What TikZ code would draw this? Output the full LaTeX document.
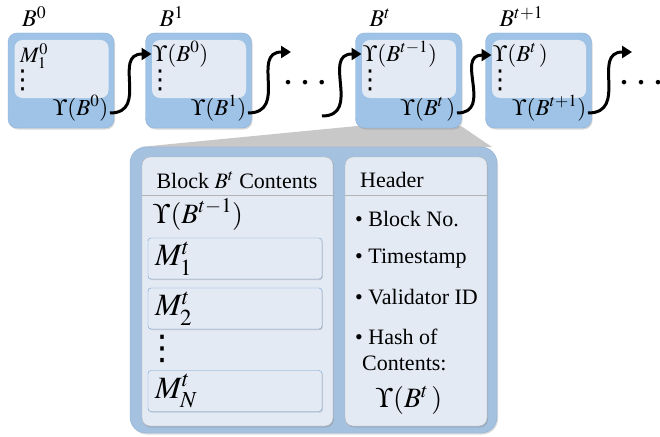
\documentclass[tikz,border=0pt]{standalone}
\usepackage{mathptmx}
\usepackage[no-math]{fontspec}
\setmainfont{Liberation Serif}
\newfontfamily\dotsfont{DejaVu Sans}
\usetikzlibrary{arrows.meta,shadows}

\definecolor{blockblue}{RGB}{158,195,230}
\definecolor{blockedge}{RGB}{140,176,215}
\definecolor{zoomblue}{RGB}{165,193,224}
\definecolor{panelfill}{RGB}{227,234,244}
\definecolor{paneledge}{RGB}{180,180,180}
\definecolor{msgedge}{RGB}{112,157,207}
\definecolor{zoomgrey}{RGB}{200,200,200}

\tikzset{
	block/.style={draw=blockedge, fill=blockblue, rounded corners=9pt, minimum width=106pt, minimum height=95pt,
		drop shadow={shadow xshift=1pt, shadow yshift=-1.5pt, opacity=.3}},
	smallpanel/.style={fill=panelfill, rounded corners=8pt, minimum width=94pt, minimum height=58pt},
	panel/.style={draw=paneledge, fill=panelfill, rounded corners=8pt, minimum height=269pt,
		drop shadow={shadow xshift=1pt, shadow yshift=-1.5pt, opacity=.3}},
	msgbox/.style={draw=msgedge, fill=panelfill, rounded corners=3pt, minimum height=41pt, text width=160pt,
		align=left, inner xsep=7pt, font=\fontsize{31}{32}\selectfont,
		drop shadow={shadow xshift=.8pt, shadow yshift=-1pt, opacity=.3}},
	toplabel/.style={inner sep=0pt, font=\fontsize{24}{28}\selectfont},
	hashtext/.style={inner sep=1.5pt, font=\fontsize{23}{26}\selectfont},
	bodytext/.style={inner sep=0pt, font=\fontsize{22}{26}\selectfont},
	bigmath/.style={inner sep=0pt, font=\fontsize{28}{30}\selectfont},
	dots/.style={inner sep=0pt, font=\fontsize{28}{30}\selectfont\bfseries},
	vdot/.style={inner sep=0pt, font=\dotsfont\fontsize{#1}{#1}\selectfont},
	chain/.style={line width=3pt, looseness=1.4, -{Triangle[length=10pt,width=12pt]}}
}

\begin{document}
\begin{tikzpicture}[x=1pt, y=-1pt]
\useasboundingbox (0,0) rectangle (660,436);

% zoom wedge from block B^t down to its contents
\fill[zoomgrey] (140,147) -- (357,126) -- (461,126) -- (492,147) -- cycle;

% the chain of blocks
\foreach \x/\n/\s in {61/b0/0, 198.5/b1/1, 408.5/bt/t, 538.5/bu/t+1} {
	\node[block] (\n) at (\x,80.5) {};
	\node[smallpanel] (\n-in) at (\x+0.5,69) {};
	\node[toplabel, anchor=base west] (\n-lab) at (\x-39,27) {$B^{\s}$};
	\node[vdot=26, anchor=center] (\n-dots) at (\x-38.5,80) {⋮};
}

\node[bodytext, anchor=base west] (m0) at (20,62) {$M^0_1$};
\node[hashtext, anchor=base east] (h0) at (110,115) {$\Upsilon(B^0)$};

\node[hashtext, anchor=base west] (p1) at (151.5,61) {$\Upsilon(B^0)$};
\node[hashtext, anchor=base east] (h1) at (248,115) {$\Upsilon(B^1)$};

\node[hashtext, anchor=base west] (pt) at (361.5,61) {$\Upsilon(B^{t-1})$};
\node[hashtext, anchor=base east] (ht) at (457,115) {$\Upsilon(B^t\,)$};

\node[hashtext, anchor=base west] (pu) at (491.5,61) {$\Upsilon(B^t\,)$};
\node[hashtext, anchor=base east] (hu) at (588,115) {$\Upsilon(B^{t+1})$};

\node[dots, anchor=base] (d1) at (305,84) {.\hspace{10pt}.\hspace{10pt}.};
\node[dots, anchor=base] (d2) at (641,84) {.\hspace{10pt}.\hspace{10pt}.};
\coordinate (c1) at (291,52);
\coordinate (c2) at (322,116);
\coordinate (c3) at (632,52);

\draw[chain] ([yshift=2pt]h0.base east) to[out=0, in=180] (p1.west);
\draw[chain] ([yshift=2pt]h1.base east) to[out=0, in=180] (c1);
\draw[chain] (c2) to[out=0, in=180] (pt.west);
\draw[chain] ([yshift=2pt]ht.base east) to[out=0, in=180] (pu.west);
\draw[chain] ([yshift=2pt]hu.base east) to[out=0, in=180] (c3);

% contents of block B^t
\node[block, rounded corners=16pt, fill=zoomblue, minimum width=367pt, minimum height=286pt] (big) at (313.5,290) {};
\node[panel, minimum width=191pt] (cont) at (237.5,291.5) {};
\node[panel, minimum width=142pt] (head) at (416,291.5) {};
\draw[paneledge, line width=1pt] ([yshift=-39pt]cont.north west) -- ([yshift=-39pt]cont.north east);
\draw[paneledge, line width=1pt] ([yshift=-39pt]head.north west) -- ([yshift=-39pt]head.north east);

\node[bodytext] (ctitle) at (237,180) {Block $B^t$ Contents};
\node[bodytext, anchor=west] (htitle) at (360,180) {Header};

\node[bigmath, anchor=base west] (prev) at (153,223) {$\Upsilon(B^{t-1})$};
\node[msgbox] (m1) at (235,258.5) {$M^t_1$};
\node[msgbox] (m2) at (235,308.5) {$M^t_2$};
\node[vdot=34, anchor=center] (mdots) at (162,349) {⋮};
\node[msgbox] (mN) at (235,391) {$M^t_N$};

\node[bodytext, anchor=west] (i1) at (355,219) {\textbullet\ Block No.};
\node[bodytext, anchor=west] (i2) at (355,259) {\textbullet\ Timestamp};
\node[bodytext, anchor=west] (i3) at (355,297) {\textbullet\ Validator ID};
\node[bodytext, anchor=west] (i4) at (355,337) {\textbullet\ Hash of};
\node[bodytext, anchor=west] (i5) at (362,363) {Contents:};
\node[bigmath] (hh) at (409,400) {$\Upsilon(B^t\,)$};
\end{tikzpicture}
\end{document}
